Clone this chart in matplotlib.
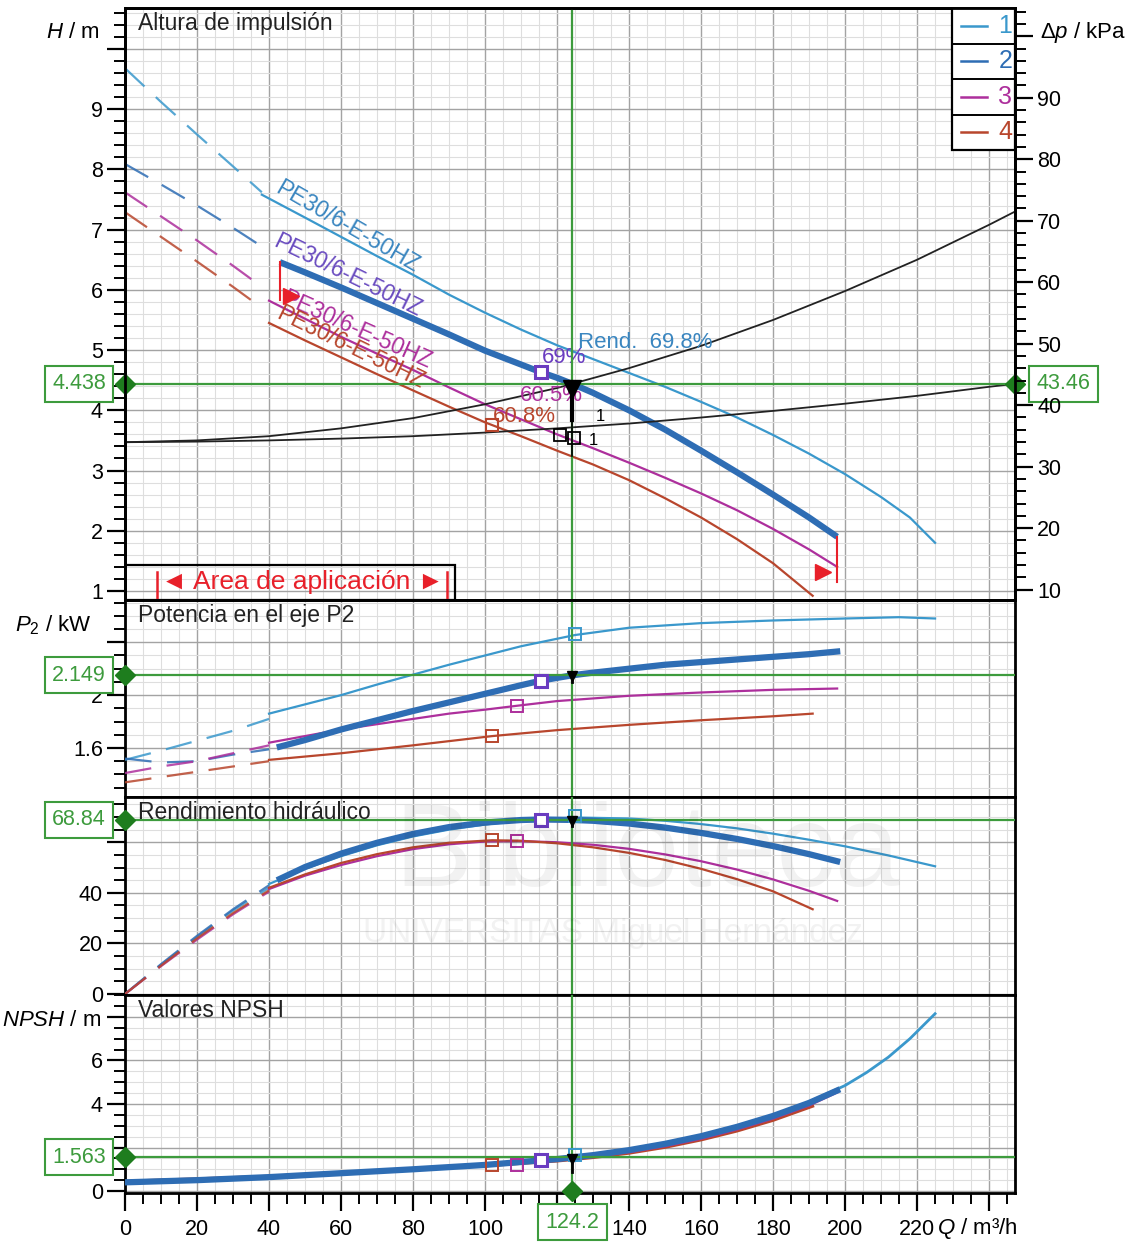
import matplotlib
matplotlib.use("Agg")
import matplotlib.pyplot as plt
import matplotlib.transforms as mtransforms
from matplotlib.ticker import MultipleLocator, FixedLocator, FuncFormatter
from matplotlib.patches import Rectangle

plt.rcParams['font.family'] = ['Liberation Sans', 'DejaVu Sans']
plt.rcParams['mathtext.fontset'] = 'custom'
plt.rcParams['mathtext.rm'] = 'Liberation Sans'
plt.rcParams['mathtext.it'] = 'Liberation Sans:italic'

# operating point
q_op, h_op, dp_op, p_op, eta_op, npsh_op = 124.2, 4.438, 43.46, 2.149, 68.84, 1.563

# --- head H (m) ---
q_ext = [0, 10, 20, 30, 38]
h1_ext = [9.68, 9.12, 8.58, 8.05, 7.62]
h2_ext = [8.09, 7.75, 7.40, 7.03, 6.72]
h3_ext = [7.62, 7.22, 6.82, 6.40, 6.05]
h4_ext = [7.29, 6.88, 6.47, 6.05, 5.70]

q1 = [38, 50, 60, 70, 80, 90, 100, 110, 120, 130, 140, 150, 160, 170, 180, 190, 200, 210, 218, 225]
h1 = [7.58, 7.20, 6.88, 6.56, 6.25, 5.92, 5.62, 5.34, 5.08, 4.85, 4.62, 4.39, 4.14, 3.88,
      3.59, 3.28, 2.94, 2.56, 2.22, 1.80]
q2 = [43, 50, 60, 70, 80, 90, 100, 110, 115.6, 120, 124.2, 130, 140, 150, 160, 170, 180, 190, 197.8]
h2 = [6.46, 6.29, 6.04, 5.78, 5.52, 5.26, 4.99, 4.76, 4.63, 4.54, 4.44, 4.29, 4.00, 3.68,
      3.33, 2.97, 2.60, 2.22, 1.90]
q3 = [40, 50, 60, 70, 80, 90, 100, 110, 120, 130, 140, 150, 160, 170, 180, 190, 197.8]
h3 = [5.82, 5.52, 5.22, 4.94, 4.67, 4.38, 4.10, 3.85, 3.60, 3.37, 3.13, 2.88, 2.62, 2.34,
      2.03, 1.69, 1.40]
q4 = [40, 50, 60, 70, 80, 90, 100, 110, 120, 130, 140, 150, 160, 170, 180, 191]
h4 = [5.45, 5.16, 4.88, 4.60, 4.33, 4.06, 3.80, 3.57, 3.33, 3.10, 2.84, 2.54, 2.22, 1.86,
      1.46, 0.92]

# system curves
q_sys = [0, 20, 40, 60, 80, 100, 120, 140, 160, 180, 200, 220, 240, 247.2]
h_sys_a = [3.47, 3.50, 3.57, 3.70, 3.87, 4.10, 4.37, 4.70, 5.07, 5.50, 5.98, 6.50, 7.08, 7.30]
h_sys_b = [3.47, 3.48, 3.50, 3.53, 3.57, 3.63, 3.70, 3.78, 3.88, 3.99, 4.11, 4.24, 4.39, 4.44]

# --- power P2 (kW) ---
q_ext2 = [0, 10, 20, 30, 40]
p1_ext = [1.51, 1.58, 1.655, 1.73, 1.82]
p2_ext = [1.52, 1.49, 1.50, 1.55, 1.59]
p3_ext = [1.41, 1.46, 1.50, 1.56, 1.62]
p4_ext = [1.34, 1.38, 1.42, 1.46, 1.50]
qp1 = [40, 50, 60, 70, 80, 90, 100, 110, 125, 140, 160, 180, 200, 215, 225]
p1 = [1.86, 1.93, 2.00, 2.08, 2.155, 2.23, 2.30, 2.37, 2.455, 2.51, 2.545, 2.565, 2.58, 2.59, 2.58]
qp2 = [43, 50, 60, 70, 80, 90, 100, 110, 115.6, 124.2, 130, 140, 150, 160, 170, 180, 190, 197.8]
p2 = [1.61, 1.66, 1.74, 1.81, 1.88, 1.945, 2.01, 2.075, 2.11, 2.15, 2.17, 2.20, 2.23, 2.25,
      2.27, 2.29, 2.31, 2.33]
qp3 = [40, 50, 60, 70, 80, 90, 100, 109, 120, 140, 160, 180, 197.8]
p3 = [1.64, 1.69, 1.74, 1.78, 1.82, 1.86, 1.89, 1.92, 1.955, 1.995, 2.02, 2.04, 2.05]
qp4 = [40, 60, 80, 102, 120, 140, 160, 180, 191]
p4 = [1.51, 1.56, 1.62, 1.69, 1.735, 1.775, 1.81, 1.84, 1.86]

# --- hydraulic efficiency (%) ---
e1_ext = [0, 11.5, 22.5, 33, 42.0]
e2_ext = [0, 11.8, 23.0, 33.5, 43.0]
e3_ext = [0, 11.0, 21.5, 31.5, 40.5]
e4_ext = [0, 11.2, 22.0, 32.0, 41.0]
qe1 = [40, 50, 60, 70, 80, 90, 100, 110, 125, 140, 150, 160, 170, 180, 190, 200, 212, 225]
e1 = [43.5, 49.5, 54.5, 58.8, 62.3, 65.0, 67.0, 68.6, 69.8, 69.4, 68.5, 67.2, 65.5, 63.4,
      61.0, 58.4, 54.8, 50.5]
qe2 = [43, 50, 60, 70, 80, 90, 100, 110, 115.6, 124.2, 130, 140, 150, 160, 170, 180, 190, 197.8]
e2 = [45.5, 50.2, 55.5, 59.8, 63.3, 66.0, 67.8, 68.8, 69.0, 68.84, 68.5, 67.4, 65.8, 63.7,
      61.3, 58.5, 55.3, 52.5]
qe3 = [40, 50, 60, 70, 80, 90, 100, 109, 120, 130, 140, 150, 160, 170, 180, 190, 197.8]
e3 = [41.5, 46.8, 51.0, 54.5, 57.3, 59.2, 60.3, 60.5, 60.0, 59.0, 57.4, 55.2, 52.5, 49.2,
      45.3, 40.8, 36.8]
qe4 = [40, 50, 60, 70, 80, 90, 102, 110, 120, 130, 140, 150, 160, 170, 180, 191]
e4 = [42.0, 47.3, 51.8, 55.3, 58.0, 59.8, 60.8, 60.6, 59.6, 58.0, 55.8, 53.0, 49.5, 45.4,
      40.6, 33.5]

# --- NPSH (m) ---
qn1 = [0, 20, 40, 60, 80, 100, 120, 130, 140, 150, 160, 170, 180, 190, 200, 206, 212, 218, 225]
n1 = [0.38, 0.48, 0.62, 0.80, 0.98, 1.18, 1.45, 1.62, 1.85, 2.14, 2.50, 2.94, 3.45, 4.10,
      4.85, 5.45, 6.15, 7.00, 8.15]
qn2 = [0, 20, 40, 60, 80, 100, 120, 130, 140, 150, 160, 170, 180, 190, 197.8]
n2 = [0.40, 0.50, 0.64, 0.82, 1.00, 1.20, 1.47, 1.65, 1.88, 2.17, 2.52, 2.95, 3.45, 4.05, 4.62]
qn3 = [0, 20, 40, 60, 80, 100, 120, 130, 140, 150, 160, 170, 180, 190, 197.8]
n3 = [0.42, 0.53, 0.66, 0.83, 0.99, 1.17, 1.42, 1.59, 1.80, 2.08, 2.42, 2.85, 3.35, 3.95, 4.55]
qn4 = [0, 20, 40, 60, 80, 100, 120, 130, 140, 150, 160, 170, 180, 191]
n4 = [0.45, 0.56, 0.68, 0.84, 0.99, 1.16, 1.38, 1.54, 1.74, 2.01, 2.35, 2.76, 3.25, 3.90]

# best efficiency markers (Q, H, P, eta, NPSH)
bep_q = [125.0, 115.6, 109.0, 102.0]
bep_h = [None, 4.63, None, 3.75]
bep_p = [2.46, 2.11, 1.92, 1.69]
bep_e = [70.4, 69.0, 60.5, 60.8]
bep_n = [1.65, 1.43, 1.20, 1.20]
bep_txt = ['Rend.  69.8%', '69%', '60.5%', '60.8%']

# application range of the selected pump
app_q = [43.0, 197.8]
app_h_top = [6.47, 1.90]
app_h_bot = [5.83, 1.15]

model = 'PE30/6-E-50HZ'
legend_labels = ['1', '2', '3', '4']

C1, C2, C3, C4 = '#3a98cc', '#2e6db4', '#ad2f9c', '#b8462d'
CMARK = '#6a3cc0'
GREEN = '#3d9b3d'
DGREEN = '#1e7d1e'
RED = '#e8202a'
cols = [C1, C2, C3, C4]
lw_thin, lw_thick = 1.6, 4.5
dash = (12, 7)

fig = plt.figure(figsize=(11.25, 12.43), dpi=100)
L, W = 125 / 1125, 890 / 1125


def rect(top, bot):
    return [L, 1 - bot / 1243, W, (bot - top) / 1243]


ax1 = fig.add_axes(rect(8, 600))
ax2 = fig.add_axes(rect(600, 797))
ax3 = fig.add_axes(rect(797, 995))
ax4 = fig.add_axes(rect(995, 1193))
axes = [ax1, ax2, ax3, ax4]

ylims = [(0.85, 10.68), (1.229, 2.72), (-0.4, 77.9), (-0.09, 9.01)]
for ax, yl in zip(axes, ylims):
    ax.set_xlim(0, 247.2)
    ax.set_ylim(*yl)
    ax.xaxis.set_major_locator(MultipleLocator(20))
    ax.xaxis.set_minor_locator(MultipleLocator(5))
    ax.grid(which='major', color='#a3a3a3', lw=1.0)
    ax.grid(which='minor', color='#dedede', lw=0.8)
    ax.set_axisbelow(True)
    for s in ax.spines.values():
        s.set_linewidth(2)
    ax.tick_params(axis='y', which='major', direction='out', length=13, width=1.6,
                   labelsize=15.5, pad=3)
    ax.tick_params(axis='y', which='minor', direction='out', length=8, width=1.4)
    if ax is not ax4:
        ax.tick_params(axis='x', which='both', length=0, labelbottom=False)

ax4.tick_params(axis='x', which='major', direction='out', length=13, width=1.6,
                labelsize=15.5, pad=6)
ax4.tick_params(axis='x', which='minor', direction='out', length=8, width=1.4)
ax4.xaxis.set_major_formatter(FuncFormatter(
    lambda v, _: '' if round(v) in (120, 240) else f'{v:.0f}'))

# y ticks
ax1.yaxis.set_major_locator(MultipleLocator(1))
ax1.yaxis.set_minor_locator(MultipleLocator(0.2))
ax1.yaxis.set_major_formatter(FuncFormatter(lambda v, _: '' if v > 9.5 else f'{v:.0f}'))
ax2.yaxis.set_major_locator(FixedLocator([1.6, 2.0, 2.4]))
ax2.yaxis.set_minor_locator(MultipleLocator(0.1))
ax2.yaxis.set_major_formatter(FuncFormatter(
    lambda v, _: '1.6' if abs(v - 1.6) < 0.01 else ('2' if abs(v - 2) < 0.01 else '')))
ax3.yaxis.set_major_locator(MultipleLocator(20))
ax3.yaxis.set_minor_locator(MultipleLocator(5))
ax3.yaxis.set_major_formatter(FuncFormatter(lambda v, _: '' if v > 50 else f'{v:.0f}'))
ax4.yaxis.set_major_locator(MultipleLocator(2))
ax4.yaxis.set_minor_locator(MultipleLocator(0.5))
ax4.yaxis.set_major_formatter(FuncFormatter(
    lambda v, _: '' if round(v) in (2, 8) else f'{v:.0f}'))

# right axis: pressure
rho_g = dp_op / h_op
ax1r = ax1.twinx()
ax1r.set_ylim(ylims[0][0] * rho_g, ylims[0][1] * rho_g)
ax1r.yaxis.set_major_locator(MultipleLocator(10))
ax1r.yaxis.set_minor_locator(MultipleLocator(2))
ax1r.yaxis.set_major_formatter(FuncFormatter(lambda v, _: '' if v > 95 else f'{v:.0f}'))
ax1r.tick_params(axis='y', which='major', direction='out', length=13, width=1.6,
                 labelsize=15.5, pad=3)
ax1r.tick_params(axis='y', which='minor', direction='out', length=8, width=1.4)
for s in ax1r.spines.values():
    s.set_linewidth(2)

# ---- panel 1: head ----
for he, c in zip([h1_ext, h2_ext, h3_ext, h4_ext], cols):
    ax1.plot(q_ext, he, color=c, lw=lw_thin, dashes=dash, alpha=0.85, zorder=3)
ax1.plot(q1, h1, color=C1, lw=lw_thin, zorder=3)
ax1.plot(q3, h3, color=C3, lw=lw_thin, zorder=3)
ax1.plot(q4, h4, color=C4, lw=lw_thin, zorder=3)
ax1.plot(q2, h2, color=C2, lw=lw_thick, solid_capstyle='butt', zorder=3)
ax1.plot(q_sys, h_sys_a, color='#222222', lw=1.3, zorder=3)
ax1.plot(q_sys, h_sys_b, color='#222222', lw=1.3, zorder=3)

lab_pos = [(41.5, 7.62, -30, '#3a86c0'), (40.8, 6.72, -26, '#6a4cc0'),
           (43.0, 5.78, -24, C3), (41.7, 5.53, -26, C4)]
for x, y, rot, c in lab_pos:
    ax1.text(x, y, model, color=c, fontsize=16.5, rotation=rot, rotation_mode='anchor',
             ha='left', va='baseline', zorder=4)

ax1.text(125.8, 5.13, bep_txt[0], color='#3a86c0', fontsize=16, va='center', zorder=4)
ax1.text(115.8, 4.88, bep_txt[1], color=CMARK, fontsize=16, va='center', zorder=4)
ax1.text(109.7, 4.25, bep_txt[2], color=C3, fontsize=16, va='center', zorder=4)
ax1.text(102.2, 3.90, bep_txt[3], color=C4, fontsize=16, va='center', zorder=4)
ax1.plot(bep_q[1], bep_h[1], 's', ms=9, mfc='white', mec=CMARK, mew=2.2, zorder=5)
ax1.plot(bep_q[3], bep_h[3], 's', ms=8, mfc='none', mec=C4, mew=1.5, zorder=5)

# application range marks
for i in range(2):
    ax1.plot([app_q[i], app_q[i]], [app_h_top[i], app_h_bot[i]], color=RED, lw=1.5, zorder=5)
ax1.plot(app_q[0] + 3, app_h_bot[0] + 0.06, '>', ms=12, color=RED, zorder=5)
ax1.plot(app_q[1] - 4, app_h_bot[1] + 0.17, '>', ms=12, color=RED, zorder=5)

# operating point marker (black)
ax1.plot([q_op, q_op], [h_op, h_op - 0.6], color='black', lw=3, zorder=6)
ax1.plot(q_op, h_op - 0.08, 'v', ms=13, color='black', zorder=6)
ax1.plot([q_op, q_op], [h_op - 0.6, h_op - 1.2], color='black', lw=1.2, zorder=6)
ax1.plot([q_op - 3.5, q_op + 0.5], [h_op - 0.85, h_op - 0.9], 's', ms=8, mfc='none',
         mec='black', mew=1.3, zorder=6)
ax1.text(q_op + 6.5, h_op - 0.62, '1', fontsize=12, zorder=6)
ax1.text(q_op + 4.5, h_op - 1.02, '1', fontsize=12, zorder=6)

# legend box
ax1.add_patch(Rectangle((0.929, 0.76), 0.071, 0.24, transform=ax1.transAxes,
                        fc='white', ec='black', lw=1.6, zorder=7))
for k, (lab, c) in enumerate(zip(legend_labels, cols)):
    yc = 1.0 - 0.03 - 0.06 * k
    if k > 0:
        ax1.plot([0.929, 1.0], [1.0 - 0.06 * k] * 2, color='black', lw=1.4,
                 transform=ax1.transAxes, zorder=8)
    ax1.plot([0.939, 0.969], [yc, yc], color=c, lw=1.8, transform=ax1.transAxes, zorder=8)
    ax1.text(0.989, yc, lab, color=c, fontsize=18, ha='center', va='center',
             transform=ax1.transAxes, zorder=8)

# area de aplicacion box
ax1.add_patch(Rectangle((0, 0), 0.371, 0.059, transform=ax1.transAxes,
                        fill=False, ec='black', lw=1.6, zorder=7))
for xb in (0.0355, 0.362):
    ax1.plot([xb, xb], [0.0, 0.047], color=RED, lw=1.8, transform=ax1.transAxes, zorder=8)
ax1.text(0.199, 0.031, '◄ Area de aplicación ►', color=RED, fontsize=19,
         ha='center', va='center', transform=ax1.transAxes, zorder=8)

# ---- panel 2: power ----
for pe, c in zip([p1_ext, p2_ext, p3_ext, p4_ext], cols):
    ax2.plot(q_ext2, pe, color=c, lw=lw_thin, dashes=dash, alpha=0.85, zorder=3)
ax2.plot(qp1, p1, color=C1, lw=lw_thin, zorder=3)
ax2.plot(qp3, p3, color=C3, lw=lw_thin, zorder=3)
ax2.plot(qp4, p4, color=C4, lw=lw_thin, zorder=3)
ax2.plot(qp2, p2, color=C2, lw=lw_thick, zorder=3)

# ---- panel 3: efficiency ----
for ee, c in zip([e1_ext, e2_ext, e3_ext, e4_ext], cols):
    ax3.plot(q_ext2, ee, color=c, lw=lw_thin, dashes=dash, alpha=0.85, zorder=3)
ax3.plot(qe1, e1, color=C1, lw=lw_thin, zorder=3)
ax3.plot(qe3, e3, color=C3, lw=lw_thin, zorder=3)
ax3.plot(qe4, e4, color=C4, lw=lw_thin, zorder=3)
ax3.plot(qe2, e2, color=C2, lw=lw_thick, zorder=3)

# ---- panel 4: NPSH ----
ax4.plot(qn4, n4, color=C4, lw=lw_thin + 0.6, zorder=3)
ax4.plot(qn3, n3, color=C3, lw=lw_thin + 0.6, zorder=3)
ax4.plot(qn1, n1, color=C1, lw=lw_thin + 0.4, zorder=3)
ax4.plot(qn2, n2, color=C2, lw=lw_thick, zorder=3)

# BEP squares in lower panels
mcols = [C1, CMARK, C3, C4]
for ax, vals in zip([ax2, ax3, ax4], [bep_p, bep_e, bep_n]):
    for qb, vb, mc in zip(bep_q, vals, mcols):
        big = mc == CMARK
        ax.plot(qb, vb, 's', ms=9 if big else 8, mfc='white' if big else 'none',
                mec=mc, mew=2.2 if big else 1.4, zorder=5)

# small black op markers in lower panels
for ax, v, d in zip([ax2, ax3, ax4], [p_op, eta_op, npsh_op], [0.05, 2.5, 0.7]):
    ax.plot([q_op, q_op], [v, v - d], color='black', lw=2, zorder=6)
    ax.plot(q_op, v - d * 0.15, 'v', ms=7, color='black', zorder=6)

# ---- operating point lines and readouts ----
box_style = dict(boxstyle='square,pad=0.35', fc='white', ec=GREEN, lw=1.5)
for ax in axes:
    ax.axvline(q_op, color=GREEN, lw=1.6, zorder=4)
for ax, v in zip(axes, [h_op, p_op, eta_op, npsh_op]):
    ax.axhline(v, color=GREEN, lw=1.6, zorder=4)
    ax.plot(0, v, 'D', ms=10, color=DGREEN, clip_on=False, zorder=10)
    tr = mtransforms.blended_transform_factory(ax.transAxes, ax.transData)
    ax.text(-0.0517, v, f'{v:.4g}' if v < 10 else f'{v:.2f}', transform=tr, color=GREEN,
            fontsize=15.5, ha='center', va='center', zorder=10, bbox=box_style)
ax1.plot(247.2, h_op, 'D', ms=10, color=DGREEN, clip_on=False, zorder=10)
tr1 = mtransforms.blended_transform_factory(ax1.transAxes, ax1.transData)
ax1.text(1.0545, h_op, f'{dp_op:.2f}', transform=tr1, color=GREEN, fontsize=15.5,
         ha='center', va='center', zorder=10, bbox=box_style)
ax4.plot(q_op, 0, 'D', ms=10, color=DGREEN, clip_on=False, zorder=10)
tr4 = mtransforms.blended_transform_factory(ax4.transData, ax4.transAxes)
ax4.text(q_op, -0.148, f'{q_op:.1f}', transform=tr4, color=GREEN, fontsize=15.5,
         ha='center', va='center', zorder=10, bbox=box_style)

# ---- titles and axis labels ----
titles = ['Altura de impulsión', 'Potencia en el eje P2', 'Rendimiento hidráulico',
          'Valores NPSH']
for ax, t, h in zip(axes, titles, [592, 197, 198, 198]):
    ax.text(0.0146, 1 - 4 / h, t, transform=ax.transAxes, fontsize=16.5, ha='left',
            va='top', color='#222222', zorder=6)

ax1.text(-0.028, 10.28, '$H$ / m', transform=tr1, ha='right', va='center', fontsize=16)
ax1.text(1.028, 10.28, 'Δ$p$ / kPa', transform=tr1, ha='left', va='center', fontsize=16)
tr2 = mtransforms.blended_transform_factory(ax2.transAxes, ax2.transData)
ax2.text(-0.037, 2.53, '$P_2$ / kW', transform=tr2, ha='right', va='center', fontsize=16)
tr4y = mtransforms.blended_transform_factory(ax4.transAxes, ax4.transData)
ax4.text(-0.027, 7.86, '$NPSH$ / m', transform=tr4y, ha='right', va='center', fontsize=16)
ax4.text(225.6, -0.177, '$Q$ / m³/h', transform=tr4, ha='left', va='center', fontsize=16)

# faint watermark
fig.text(0.575, 0.312, 'Biblioteca', fontsize=84, color='black', alpha=0.05,
         ha='center', va='center')
fig.text(0.545, 0.249, 'UNIVERSITAS Miguel Hernández', fontsize=24, color='black',
         alpha=0.05, ha='center', va='center')

fig.savefig('out.png', dpi=100)
